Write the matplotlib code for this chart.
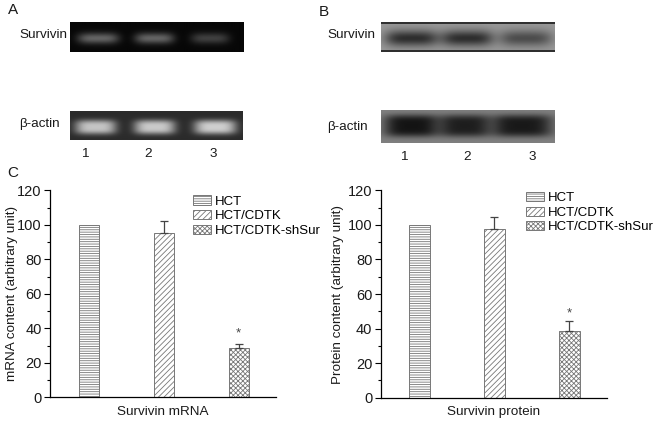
import numpy as np
import matplotlib
matplotlib.use("Agg")
import matplotlib.pyplot as plt
from matplotlib.patches import Patch

W, H = 665, 437
plt.rcParams['font.family'] = ['Liberation Sans', 'DejaVu Sans']
plt.rcParams['hatch.linewidth'] = 0.6
plt.rcParams['axes.linewidth'] = 0.9

groups = ["HCT", "HCT/CDTK", "HCT/CDTK-shSur"]
yticks = [0, 20, 40, 60, 80, 100, 120]
lanes = ["1", "2", "3"]

mrna_values = [100, 95, 28.5]
mrna_errors = [0, 7, 2.3]
mrna_star = 37
protein_values = [100, 97.5, 38.8]
protein_errors = [0, 7, 5.5]
protein_star = 49

# band strength, lanes 1-3, gels are light on dark, blots dark on light
gel_survivin = [0.36, 0.36, 0.22]
gel_actin = [0.60, 0.62, 0.64]
blot_survivin = [0.42, 0.42, 0.30]
blot_actin = [0.42, 0.38, 0.40]

fig = plt.figure(figsize=(W / 100, H / 100), dpi=100)


def px_axes(x0, y0, x1, y1):
	return fig.add_axes([x0 / W, 1 - y1 / H, (x1 - x0) / W, (y1 - y0) / H])


def px_text(x, y, s, size=9.7, **kw):
	kw.setdefault('va', 'center')
	fig.text(x / W, 1 - y / H, s, fontsize=size, color='#1a1a1a', **kw)


def band_image(box, bg, strength, spans, cy, hy, sign, py=2):
	x0, y0, x1, y1 = box
	xx, yy = np.meshgrid(np.arange(x0, x1, 0.5), np.arange(y0, y1, 0.5))
	img = np.full(xx.shape, bg, dtype=float)
	for s, (a, b) in zip(strength, spans):
		c = (a + b) / 2
		wx = (b - a) / 2
		blob = np.exp(-((xx - c) / wx) ** 4 - np.abs((yy - cy) / hy) ** py)
		img += sign * s * blob
	ax = px_axes(x0, y0, x1, y1)
	ax.imshow(img, cmap='gray', vmin=0, vmax=1, aspect='auto',
		extent=(x0, x1, y1, y0), interpolation='bilinear')
	ax.axis('off')
	return ax


band_image((69.5, 22, 243, 52), 0.03, gel_survivin, [(77, 118), (134, 173), (190, 228)], 38, 5.5, 1)
band_image((70, 110.5, 243, 140), 0.17, gel_actin, [(75, 116), (134, 175), (194, 236)], 127, 7, 1, py=3)
ax = band_image((381, 22, 555, 52), 0.60, blot_survivin, [(385, 438), (441, 493), (499, 552)], 38, 8, -1)
for yy in (22.8, 51.2):
	ax.axhline(yy, color='#111111', lw=1.1)
band_image((381, 110, 555, 143), 0.50, blot_actin, [(384, 439), (440, 489), (491, 552)], 125.5, 11, -1, py=4)

px_text(19, 35, "Survivin")
px_text(19, 124, "β-actin")
px_text(327, 35, "Survivin")
px_text(327, 127, "β-actin")
for x, s in zip([85, 148, 213], lanes):
	px_text(x, 154, s, ha='center')
for x, s in zip([404, 467, 532], lanes):
	px_text(x, 157, s, ha='center')
px_text(13, 10, "A", size=11, ha='center')
px_text(324, 12, "B", size=11, ha='center')
px_text(13, 173, "C", size=11, ha='center')

hatches = ['-------', '//////', 'xxxxxxx']


def bar_panel(box, values, errors, star, ylabel, xlabel, legend_xy, label_x):
	ax = px_axes(*box)
	pos = np.arange(3)
	for p, v, e, h in zip(pos, values, errors, hatches):
		ax.bar(p, v, width=0.27, facecolor='white', edgecolor='#777777', hatch=h, lw=0.7)
		if e > 0:
			ax.errorbar(p, v, yerr=[[0], [e]], color='#444444', capsize=3.2, lw=0.9, capthick=0.9)
	ax.text(2, star, "*", ha='center', va='center', fontsize=9.5, color='#444444')
	ax.set_xlim(-0.516, 2.497)
	ax.set_ylim(0, 120)
	ax.set_yticks(yticks)
	ax.set_yticks(np.arange(10, 120, 20), minor=True)
	ax.tick_params(axis='y', which='major', length=4, width=0.8, labelsize=10.5, pad=2, labelcolor='#1a1a1a')
	ax.tick_params(axis='y', which='minor', length=2, width=0.8)
	ax.set_xticks([])
	ax.spines[['top', 'right']].set_visible(False)
	ax.set_ylabel(ylabel, fontsize=9.7, color='#1a1a1a')
	ax.yaxis.set_label_coords((label_x - box[0]) / (box[2] - box[0]), 0.5)
	ax.set_xlabel(xlabel, fontsize=9.7, labelpad=6, color='#1a1a1a')
	handles = [Patch(facecolor='white', edgecolor='#777777', hatch=h, lw=0.7, label=g)
		for g, h in zip(groups, hatches)]
	ax.legend(handles=handles, loc='upper left', frameon=False, fontsize=9.5,
		bbox_to_anchor=(legend_xy[0] / W, 1 - legend_xy[1] / H), bbox_transform=fig.transFigure,
		borderpad=0, borderaxespad=0, handlelength=1.35, handleheight=0.7,
		handletextpad=0.3, labelspacing=0.18)


bar_panel((50, 190.3, 276, 397.3), mrna_values, mrna_errors, mrna_star,
	"mRNA content (arbitrary unit)", "Survivin mRNA", (193, 195.3), 18)
bar_panel((380.7, 190.3, 606.7, 397.7), protein_values, protein_errors, protein_star,
	"Protein content (arbitrary unit)", "Survivin protein", (525.7, 192), 344)

fig.savefig("out.png", dpi=100)
